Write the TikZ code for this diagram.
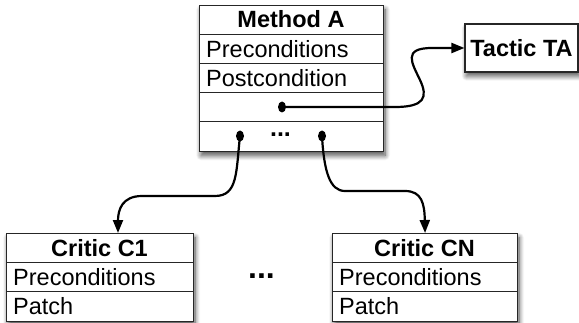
\documentclass[tikz,border=0pt]{standalone}
\usepackage{fontspec}
\setmainfont{Liberation Sans}
\usetikzlibrary{arrows.meta,shadows.blur,shapes.geometric,calc}

\begin{document}
\begin{tikzpicture}[x=1pt,y=1pt,
  every node/.style={font=\fontsize{23.5}{28}\selectfont},
  box/.style={draw=black!85, line width=1.1pt, fill=white, inner sep=0pt,
    blur shadow={shadow xshift=1.5pt, shadow yshift=-4pt, shadow blur radius=5pt,
                 shadow blur steps=10, shadow opacity=70}},
  rowline/.style={draw=black!85, line width=1.1pt},
  label/.style={anchor=base west, inner sep=0pt},
  heading/.style={anchor=base, inner sep=0pt, font=\fontsize{23.5}{28}\selectfont\bfseries},
  ellipsis/.style={anchor=base, inner sep=0pt, font=\fontsize{#1}{#1}\selectfont\bfseries},
  blob/.style={ellipse, fill=black, inner sep=0pt, minimum width=8pt, minimum height=11pt},
  link/.style={line width=2.2pt, -{Triangle[length=13pt,width=10pt]}},
]
\useasboundingbox (0,0) rectangle (579,322);

% method box with five rows
\node[box, anchor=north west, minimum width=184pt, minimum height=146pt] (ma) at (199,317) {};
\foreach \k in {1,...,4}
  \draw[rowline] ($(ma.north west)+(0,-29.2*\k)$) -- ($(ma.north east)+(0,-29.2*\k)$);
\node[heading] (maT) at (291,294) {Method A};
\node[label] (maP) at (206,264.8) {Preconditions};
\node[label] (maQ) at (206,235.6) {Postcondition};
\node[blob] (tacdot) at (282,215) {};
\node[blob] (c1dot) at (240,186) {};
\node[blob] (cndot) at (322,186) {};
\node[ellipsis=25] (madots) at (280.5,185.3) {...};

% tactic box
\node[box, minimum width=113pt, minimum height=48pt, text height=17pt, text depth=0pt,
      font=\fontsize{23.5}{28}\selectfont\bfseries] (ta) at (521.5,274) {Tactic TA};

% critic boxes
\node[box, anchor=north west, minimum width=187pt, minimum height=88pt] (c1) at (6,89) {};
\foreach \k in {1,2}
  \draw[rowline] ($(c1.north west)+(0,-29.33*\k)$) -- ($(c1.north east)+(0,-29.33*\k)$);
\node[heading] (c1T) at (99.5,65.9) {Critic C1};
\node[label] (c1P) at (13,36.6) {Preconditions};
\node[label] (c1Q) at (13,7.3) {Patch};

\node[box, anchor=north west, minimum width=185pt, minimum height=88pt] (cn) at (332,89) {};
\foreach \k in {1,2}
  \draw[rowline] ($(cn.north west)+(0,-29.33*\k)$) -- ($(cn.north east)+(0,-29.33*\k)$);
\node[heading] (cnT) at (424.5,65.9) {Critic CN};
\node[label] (cnP) at (339,36.6) {Preconditions};
\node[label] (cnQ) at (339,7.3) {Patch};

\node[ellipsis=32] (middots) at (261.5,43.7) {...};

% connectors
\coordinate (c1in) at (118,89);
\draw[link] (tacdot.center) -- (395,215)
  .. controls (425,215) and (428,225) .. (420,242)
  .. controls (412,259) and (402,274) .. (432,274) -- (ta.west);
\draw[link] (c1dot.center) .. controls (236,150) and (238,126) .. (215,126)
  -- (142,126) .. controls (122,126) and (118,112) .. (c1in);
\draw[link] (cndot.center) .. controls (324,150) and (330,131) .. (345,131)
  -- (405,131) .. controls (422,131) and (424.5,118) .. (cn.north);
\end{tikzpicture}
\end{document}
